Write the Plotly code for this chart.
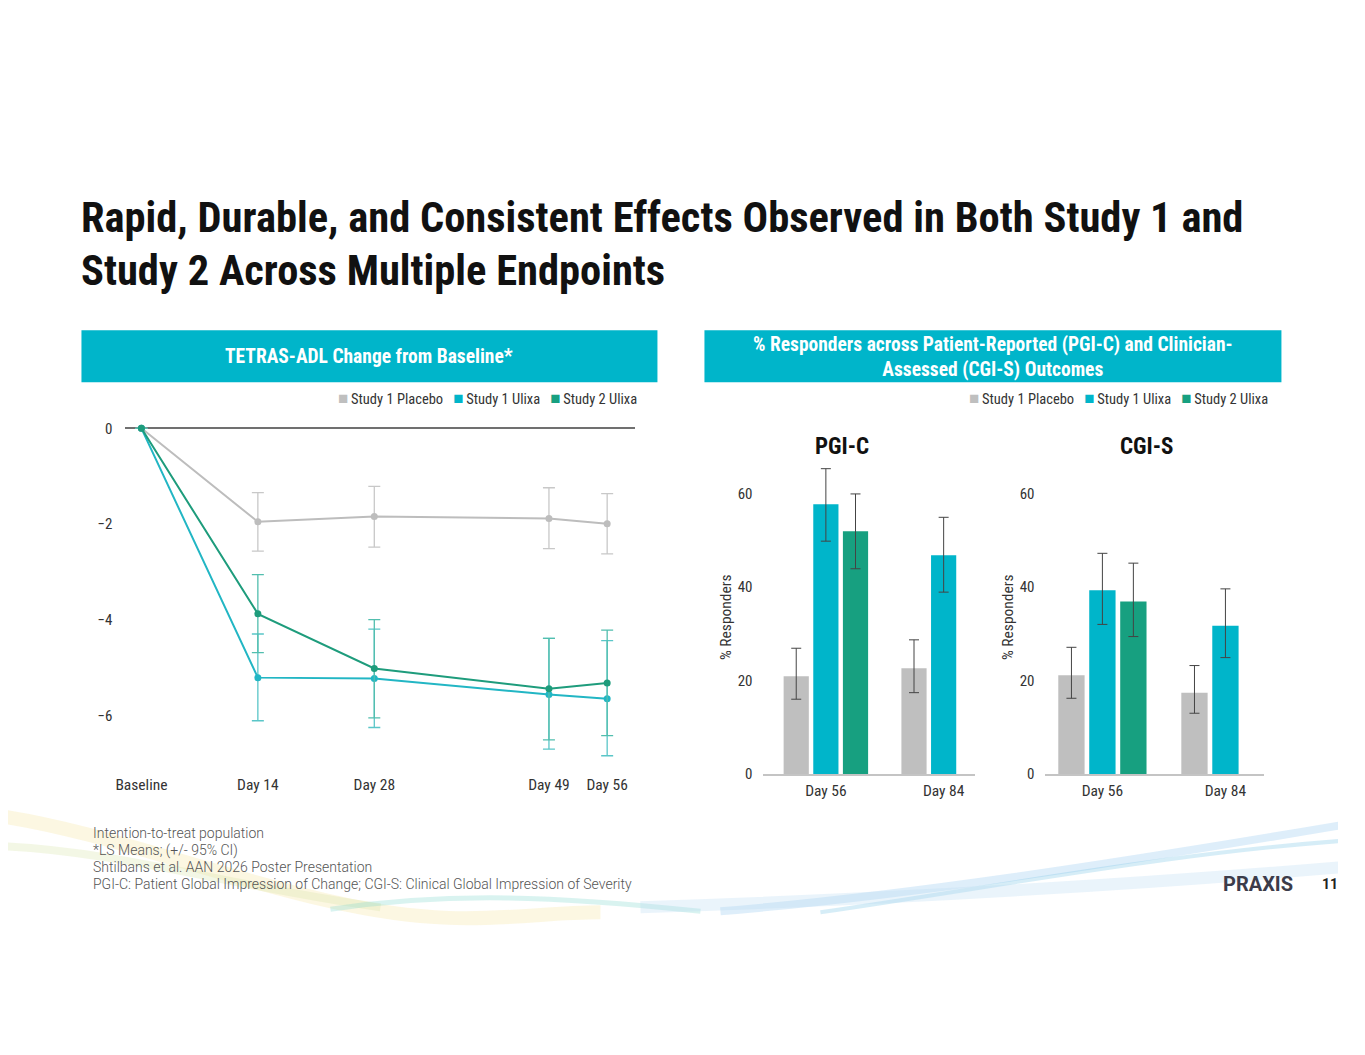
import plotly.graph_objects as go

# ---------------- data ----------------
series_names = ["Study 1 Placebo", "Study 1 Ulixa", "Study 2 Ulixa"]

# TETRAS-ADL change from baseline (LS means, 95% CI)
days = [0, 14, 28, 49, 56]
day_labels = ["Baseline", "Day 14", "Day 28", "Day 49", "Day 56"]
placebo_mean = [0, -1.95, -1.84, -1.88, -1.99]
placebo_hi = [None, -1.34, -1.21, -1.24, -1.36]
placebo_lo = [None, -2.56, -2.48, -2.51, -2.62]
s1_mean = [0, -5.20, -5.22, -5.55, -5.64]
s1_hi = [None, -4.29, -4.19, -4.38, -4.43]
s1_lo = [None, -6.10, -6.24, -6.69, -6.83]
s2_mean = [0, -3.87, -5.01, -5.43, -5.31]
s2_hi = [None, -3.05, -3.99, -4.38, -4.21]
s2_lo = [None, -4.68, -6.04, -6.50, -6.41]
line_ticks = [0, -2, -4, -6]

# % responders
visits = ["Day 56", "Day 84"]
pgic_placebo = [20.9, 22.6]
pgic_placebo_hi = [26.9, 28.7]
pgic_placebo_lo = [16.0, 17.4]
pgic_s1 = [57.7, 46.8]
pgic_s1_hi = [65.3, 54.9]
pgic_s1_lo = [49.8, 38.9]
pgic_s2 = [51.9, None]
pgic_s2_hi = [59.9, None]
pgic_s2_lo = [43.9, None]

cgis_placebo = [21.1, 17.4]
cgis_placebo_hi = [27.1, 23.2]
cgis_placebo_lo = [16.2, 13.0]
cgis_s1 = [39.3, 31.7]
cgis_s1_hi = [47.2, 39.6]
cgis_s1_lo = [32.0, 24.9]
cgis_s2 = [36.9, None]
cgis_s2_hi = [45.1, None]
cgis_s2_lo = [29.4, None]
bar_ticks = [0, 20, 40, 60]

title_lines = [
    "Rapid, Durable, and Consistent Effects Observed in Both Study 1 and",
    "Study 2 Across Multiple Endpoints",
]
footnotes = [
    "Intention-to-treat population",
    "*LS Means; (+/- 95% CI)",
    "Shtilbans et al. AAN 2026 Poster Presentation",
    "PGI-C: Patient Global Impression of Change; CGI-S: Clinical Global Impression of Severity",
]

# ---------------- style ----------------
C_GRAY = "#BFBFBF"
C_CYAN = "#00B5CA"
C_GREEN = "#17A080"
LINE_COLORS = ["#BDBDBD", "#22B6C4", "#1E9C7C"]
ERR_COLORS = ["#C8C8C8", "#5AC6C8", "#52BEAE"]
BAR_COLORS = [C_GRAY, C_CYAN, C_GREEN]
HEADER = "#00B5CA"
FONT = "Roboto Condensed, Liberation Sans Narrow, Roboto, sans-serif"

W, H, OFF = 1330, 1000, 8
# calibration of page pixels -> picture pixels
SX, DX, SY, DY = 0.9925, 9.6, 0.989, 0.6


def X(px):
    return ((px - DX) / SX - OFF) / W


def Y(py):
    return 1 - ((py - DY) / SY - OFF) / H


def up(hi, m):
    return [None if h is None or v is None else h - v for h, v in zip(hi, m)]


def down(lo, m):
    return [None if l is None or v is None else v - l for l, v in zip(lo, m)]


fig = go.Figure()

# ---------------- line chart ----------------
for name, m, hi, lo, lc, ec in zip(
    series_names,
    [placebo_mean, s1_mean, s2_mean],
    [placebo_hi, s1_hi, s2_hi],
    [placebo_lo, s1_lo, s2_lo],
    LINE_COLORS,
    ERR_COLORS,
):
    fig.add_trace(
        go.Scatter(
            x=days, y=m, name=name, mode="lines+markers",
            line=dict(color=lc, width=2), marker=dict(color=lc, size=7),
            error_y=dict(type="data", symmetric=False, array=up(hi, m),
                         arrayminus=down(lo, m), color=ec, thickness=1.3, width=6),
            xaxis="x", yaxis="y", showlegend=False, cliponaxis=False,
        )
    )

# ---------------- bar charts ----------------
pgic = [(pgic_placebo, pgic_placebo_hi, pgic_placebo_lo),
        (pgic_s1, pgic_s1_hi, pgic_s1_lo),
        (pgic_s2, pgic_s2_hi, pgic_s2_lo)]
cgis = [(cgis_placebo, cgis_placebo_hi, cgis_placebo_lo),
        (cgis_s1, cgis_s1_hi, cgis_s1_lo),
        (cgis_s2, cgis_s2_hi, cgis_s2_lo)]
for data, xa, ya in [(pgic, "x2", "y2"), (cgis, "x3", "y3")]:
    for name, (m, hi, lo), col in zip(series_names, data, BAR_COLORS):
        fig.add_trace(
            go.Bar(
                x=visits, y=m, name=name, marker=dict(color=col, line=dict(width=0)),
                error_y=dict(type="data", symmetric=False, array=up(hi, m),
                             arrayminus=down(lo, m), color="#444444", thickness=1, width=5),
                xaxis=xa, yaxis=ya, showlegend=False,
            )
        )

tick_font = dict(family=FONT, size=15.5, color="#333333")
ytick_font = dict(family=FONT, size=15, color="#333333")
ytitle_font = dict(family=FONT, size=15.5, color="#333333")

fig.update_layout(
    width=W, height=H, margin=dict(l=0, r=0, t=0, b=0),
    paper_bgcolor="white", plot_bgcolor="rgba(0,0,0,0)",
    barmode="group", bargap=0.245, bargroupgap=0.15,
    font=dict(family=FONT, color="#333333"),
    xaxis=dict(domain=[X(125), X(635)], range=[-1.92, 59.4],
               tickvals=days, ticktext=day_labels, tickfont=tick_font,
               showgrid=False, zeroline=False, showline=False, ticks="",
               ticklabelstandoff=0),
    yaxis=dict(domain=[Y(772), Y(410)], range=[-7.19, 0.376],
               tickvals=line_ticks, tickfont=ytick_font, showgrid=False,
               zeroline=True, zerolinecolor="#707070", zerolinewidth=1.5,
               showline=False, ticks="", ticklabelstandoff=12),
    xaxis2=dict(domain=[X(763), X(975)], range=[-0.53, 1.27], type="category",
                tickfont=tick_font, showgrid=False, showline=True,
                linecolor="#C4C4C4", linewidth=1.5, ticks="", anchor="y2",
                ticklabelstandoff=2),
    yaxis2=dict(domain=[Y(773), Y(460)], range=[0, 67.07], tickvals=bar_ticks,
                tickfont=ytick_font, showgrid=False, zeroline=False, showline=False,
                ticks="", anchor="x2", ticklabelstandoff=10,
                title=dict(text="% Responders", font=ytitle_font, standoff=2)),
    xaxis3=dict(domain=[X(1045), X(1264)], range=[-0.463, 1.317], type="category",
                tickfont=tick_font, showgrid=False, showline=True,
                linecolor="#C4C4C4", linewidth=1.5, ticks="", anchor="y3",
                ticklabelstandoff=2),
    yaxis3=dict(domain=[Y(773), Y(460)], range=[0, 67.07], tickvals=bar_ticks,
                tickfont=ytick_font, showgrid=False, zeroline=False, showline=False,
                ticks="", anchor="x3", ticklabelstandoff=10,
                title=dict(text="% Responders", font=ytitle_font, standoff=2)),
)

shapes = []
ann = []


def paper_path(path):
    out, nums = [], []
    for tok in path.replace(",", " ").split():
        if tok.isalpha():
            out.append(tok)
        else:
            nums.append(float(tok))
            if len(nums) == 2:
                out.append(f"{X(nums[0]):.5f},{Y(nums[1]):.5f}")
                nums = []
    return " ".join(out)


# decorative waves at the bottom of the slide
wave_specs = [
    ("M 0 815 C 100 830, 200 870, 330 900 S 520 911, 600 911", "rgba(245,228,160,0.30)", 14),
    ("M 0 845 C 120 850, 230 885, 380 906", "rgba(215,230,170,0.30)", 8),
    ("M 330 908 C 450 890, 560 895, 700 910", "rgba(130,215,205,0.30)", 5),
    ("M 720 910 C 900 895, 1100 865, 1365 820", "rgba(160,205,240,0.35)", 8),
    ("M 820 911 C 1000 885, 1180 850, 1365 838", "rgba(120,195,230,0.30)", 4),
    ("M 640 906 C 880 898, 1120 885, 1365 864", "rgba(185,220,242,0.30)", 12),
]
for path, col, wdt in wave_specs:
    shapes.append(dict(type="path", xref="paper", yref="paper", path=paper_path(path),
                       line=dict(color=col, width=wdt), layer="below"))

# header boxes
for x0, x1 in [(81, 657), (704, 1281)]:
    shapes.append(dict(type="rect", xref="paper", yref="paper", x0=X(x0), x1=X(x1),
                       y0=Y(382), y1=Y(330), fillcolor=HEADER, line=dict(width=0), layer="below"))

ann.append(dict(x=X(369), y=Y(356), xref="paper", yref="paper", showarrow=False,
                xanchor="center", yanchor="middle",
                text="<b>TETRAS-ADL Change from Baseline*</b>",
                font=dict(family=FONT, size=19.5, color="white")))
ann.append(dict(x=X(993), y=Y(357), xref="paper", yref="paper", showarrow=False,
                xanchor="center", yanchor="middle",
                text="<b>% Responders across Patient-Reported (PGI-C) and Clinician-<br>Assessed (CGI-S) Outcomes</b>",
                font=dict(family=FONT, size=19.5, color="white")))

# title
for line, yy in zip(title_lines, [218, 270]):
    ann.append(dict(x=X(79), y=Y(yy), xref="paper", yref="paper", xanchor="left",
                    yanchor="middle", align="left", showarrow=False,
                    text=f"<b>{line}</b>",
                    font=dict(family=FONT, size=42.5, color="#111111")))

# legends (square swatches + labels)
legend_html = "&nbsp;&nbsp;&nbsp;".join(
    f"<span style='color:{c};font-size:17px'>■</span>\u2009{n}" for n, c in zip(series_names, BAR_COLORS)
)
for xr in [639, 1270]:
    ann.append(dict(x=X(xr), y=Y(398), xref="paper", yref="paper", xanchor="right",
                    yanchor="middle", showarrow=False, text=legend_html,
                    font=dict(family=FONT, size=14.5, color="#333333")))

# subplot titles
ann.append(dict(x=X(842), y=Y(446), xref="paper", yref="paper", showarrow=False,
                xanchor="center", yanchor="middle",
                text="<b>PGI-C</b>", font=dict(family=FONT, size=23, color="#111111")))
ann.append(dict(x=X(1147), y=Y(446), xref="paper", yref="paper", showarrow=False,
                xanchor="center", yanchor="middle",
                text="<b>CGI-S</b>", font=dict(family=FONT, size=23, color="#111111")))

# footnotes
for i, line in enumerate(footnotes):
    ann.append(dict(x=X(91), y=Y(832 + 17 * i), xref="paper", yref="paper",
                    xanchor="left", yanchor="middle", showarrow=False, text=line,
                    font=dict(family="Roboto, sans-serif", size=14, color="#555555", weight=300)))

# logo + page number
ann.append(dict(x=X(1258), y=Y(883), xref="paper", yref="paper", showarrow=False,
                xanchor="center", yanchor="middle",
                text="<b>PRAXIS</b>", font=dict(family="Roboto, sans-serif", size=20, color="#3C3C4A")))
ann.append(dict(x=X(1330), y=Y(883), xref="paper", yref="paper", showarrow=False,
                xanchor="center", yanchor="middle",
                text="<b>11</b>", font=dict(family="Roboto, sans-serif", size=14, color="#222222")))

fig.update_layout(shapes=shapes, annotations=ann)

fig.write_html("out.html")
